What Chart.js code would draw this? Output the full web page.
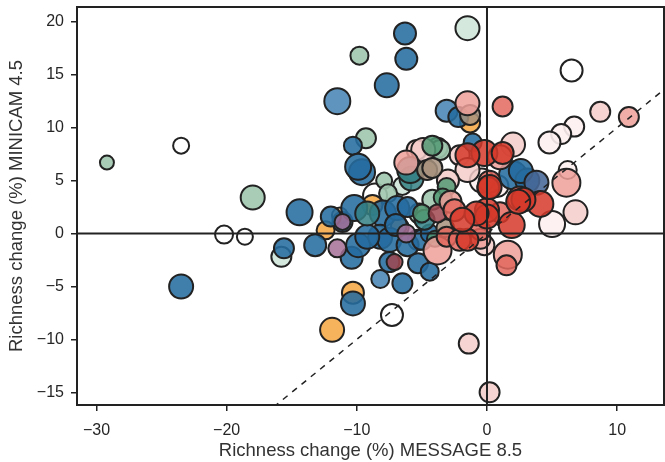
<!DOCTYPE html>
<html>
<head>
<meta charset="utf-8">
<script src="https://cdn.jsdelivr.net/npm/chart.js@4"></script>
<style>
  html, body { margin: 0; padding: 0; background: #fff; }
</style>
</head>
<body>
<canvas id="grafica" width="665" height="462"></canvas>
<script>
// each point: [MESSAGE 8.5 change, MINICAM 4.5 change, bubble size]
const white = [[-23.5,8.3,8],[-20.2,-0.1,9],[-18.6,-0.3,8],[6.5,15.4,11],[-7.3,-7.7,11],[-8.6,3.6,12],[-5.3,-0.6,10]];
const greenPale = [[-1.5,19.4,12],[-15.8,-2.2,10],[-6.5,4.5,9]];
const greenLight = [[-29.2,6.7,7],[-18.0,3.4,12],[-9.8,16.8,9],[-9.3,9.0,10],[-7.9,5.0,8],[-5.2,1.9,10],[-3.8,8.1,10],[-7.6,3.8,9],[-4.2,3.2,10],[-3.6,7.9,10]];
const veryLight = [[6.7,10.1,10],[5.7,9.4,10],[4.8,8.6,11],[6.2,6.0,9],[5.0,0.9,13],[0.8,4.5,11],[-0.4,5.0,12]];
const pinkLight = [[8.7,11.5,10],[6.8,2.0,12],[-1.4,-10.4,10],[0.2,-15.0,10],[2.0,8.4,12],[-5.4,7.9,10],[-2.1,7.4,10],[-0.2,-1.1,10],[-1.5,6.0,12],[-3.0,5.0,11],[-4.9,7.9,12]];
const orange = [[-1.3,10.5,10],[-11.9,-9.1,12],[-10.3,-5.6,11],[-12.4,0.3,9],[-8.8,2.7,10],[-6.7,0.6,9]];
const orangeLight = [[-11.3,1.7,8]];
const blueLight = [[-11.5,12.5,13],[-8.2,-4.3,9],[-3.1,11.6,11]];
const blueDark = [[-6.3,18.9,11],[-6.2,16.5,11],[-7.7,14.0,12],[-10.3,8.3,9],[-9.6,5.8,13],[-9.9,6.3,13],[-14.4,2.0,13],[-15.6,-1.4,10],[-23.5,-5.0,12],[-13.2,-1.1,11],[-10.4,-2.3,11],[-9.9,-1.1,12],[-11.1,1.1,10],[-10.2,2.4,13],[-8.0,1.9,13],[-6.9,2.4,12],[-8.2,-0.3,12],[-7.5,-0.6,12],[-7.5,-2.7,10],[-6.1,-1.1,11],[-6.5,-4.7,10],[-5.3,-2.8,10],[-4.4,-3.6,9],[-10.3,-6.6,12],[2.0,5.5,14],[3.1,5.0,12],[-1.1,8.6,9],[-2.2,11.0,10],[-5.0,-0.6,10],[-4.4,0.0,9],[-6.1,2.5,10],[-9.2,-0.3,12],[-12.0,1.6,10],[-7.0,0.8,11],[2.6,5.9,12]];
const slate = [[3.8,4.8,12]];
const teal = [[-5.8,5.2,12],[-5.9,6.0,13],[-9.2,1.9,12],[-4.8,1.3,10]];
const greenMid = [[-4.2,8.3,10],[-3.1,4.4,9],[-5.0,1.9,9],[-3.4,3.4,9],[-4.0,-0.5,8]];
const brown = [[-4.6,6.0,10],[-3.2,0.5,9],[-4.2,6.2,10],[-1.3,11.2,10]];
const purple = [[-11.5,-1.4,9],[-11.1,1.1,8],[-6.2,0.0,9]];
const maroon = [[-7.1,-2.7,8],[-3.8,1.9,9]];
const pink = [[10.9,11.0,10],[6.1,4.8,14],[-1.5,12.3,12],[-3.8,-1.6,14],[1.6,-2.0,14],[-6.2,6.7,12],[-2.8,3.0,11],[-0.5,-0.5,10],[1.0,7.2,12]];
const redMid = [[1.2,12.0,10],[0.2,4.9,11],[2.5,3.3,12],[1.5,-3.0,10],[-3.1,-0.3,10],[-2.1,-0.6,11],[-0.5,0.3,10],[-2.5,2.2,11],[1.0,2.0,10]];
const redDark = [[4.1,2.8,13],[-0.2,7.6,13],[-1.5,7.4,12],[1.2,7.6,11],[0,2.2,12],[0,1.6,12],[1.9,0.8,13],[2.8,3.2,12],[-1.5,-0.6,11],[-0.8,1.9,12],[0.1,4.3,11],[-1.9,1.3,12],[0.2,4.4,12],[2.4,3.0,12]];

const xTicks = [-30, -20, -10, 0, 10];
const yTicks = [-15, -10, -5, 0, 5, 10, 15, 20];

// drawn bottom to top
const grupos = [
  [white, 'rgba(255,255,255,0.9)'],
  [greenPale, 'rgba(208,229,217,0.9)'],
  [greenLight, 'rgba(160,198,174,0.9)'],
  [veryLight, 'rgba(253,240,239,0.9)'],
  [pinkLight, 'rgba(245,205,201,0.85)'],
  [orange, 'rgba(246,164,64,0.85)'],
  [orangeLight, 'rgba(251,201,138,0.85)'],
  [blueLight, 'rgba(72,133,180,0.88)'],
  [blueDark, 'rgba(38,108,160,0.88)'],
  [slate, 'rgba(70,104,150,0.88)'],
  [teal, 'rgba(50,128,132,0.85)'],
  [greenMid, 'rgba(84,154,116,0.85)'],
  [brown, 'rgba(168,146,124,0.85)'],
  [purple, 'rgba(164,112,152,0.85)'],
  [maroon, 'rgba(160,70,80,0.85)'],
  [pink, 'rgba(238,160,154,0.85)'],
  [redMid, 'rgba(228,104,94,0.85)'],
  [redDark, 'rgba(214,58,42,0.85)']
];

const toMinus = v => String(v).replace('-', '\u2212');

const marco = {
  id: 'marco',
  afterDatasetsDraw(chart) {
    const {ctx, chartArea: a, scales: {x, y}} = chart;
    ctx.save();
    ctx.beginPath();
    ctx.rect(a.left, a.top, a.right - a.left, a.bottom - a.top);
    ctx.clip();
    ctx.strokeStyle = '#222';
    // diagonal 1:1
    ctx.setLineDash([6, 6]);
    ctx.lineWidth = 1.5;
    ctx.beginPath();
    ctx.moveTo(x.getPixelForValue(-40), y.getPixelForValue(-40));
    ctx.lineTo(x.getPixelForValue(40), y.getPixelForValue(40));
    ctx.stroke();
    ctx.setLineDash([]);
    ctx.lineWidth = 2;
    ctx.beginPath();
    ctx.moveTo(a.left, y.getPixelForValue(0));
    ctx.lineTo(a.right, y.getPixelForValue(0));
    ctx.moveTo(x.getPixelForValue(0), a.top);
    ctx.lineTo(x.getPixelForValue(0), a.bottom);
    ctx.stroke();
    ctx.restore();
    ctx.save();
    ctx.strokeStyle = '#222';
    ctx.lineWidth = 2;
    ctx.strokeRect(a.left, a.top, a.right - a.left, a.bottom - a.top);
    ctx.restore();
  }
};

const fuente = { family: '"Liberation Sans", Arial, sans-serif', size: 16 };
const fuenteTitulo = { family: '"Liberation Sans", Arial, sans-serif', size: 18.5 };

new Chart(document.getElementById('grafica'), {
  type: 'bubble',
  data: {
    datasets: grupos.map(([puntos, color], i) => ({
      data: puntos.map(p => ({ x: p[0], y: p[1], r: p[2] })),
      backgroundColor: color,
      borderColor: '#222',
      borderWidth: 2,
      order: grupos.length - i
    }))
  },
  options: {
    responsive: false,
    animation: false,
    devicePixelRatio: 1,
    layout: { autoPadding: false, padding: { top: 7, right: 1, left: 0, bottom: 0 } },
    plugins: { legend: { display: false }, tooltip: { enabled: false } },
    scales: {
      x: {
        type: 'linear',
        min: -31.5,
        max: 13.6,
        afterFit: s => { s.height = 57; s.paddingLeft = 0; s.paddingRight = 0; },
        afterBuildTicks: s => { s.ticks = xTicks.map(v => ({ value: v })); },
        grid: { drawOnChartArea: false, drawTicks: true, tickLength: 6, color: '#222', lineWidth: 1.5 },
        border: { display: false },
        ticks: { color: '#262626', font: fuente, padding: 10, maxRotation: 0, callback: v => toMinus(v) },
        title: { display: true, text: 'Richness change (%) MESSAGE 8.5', color: '#333', font: fuenteTitulo, padding: { top: 0, bottom: 0 } }
      },
      y: {
        type: 'linear',
        min: -16.2,
        max: 21.4,
        afterFit: s => { s.width = 77; s.paddingTop = 0; s.paddingBottom = 0; },
        afterBuildTicks: s => { s.ticks = yTicks.map(v => ({ value: v })); },
        grid: { drawOnChartArea: false, drawTicks: true, tickLength: 6, color: '#222', lineWidth: 1.5 },
        border: { display: false },
        ticks: { color: '#262626', font: fuente, padding: 7, callback: v => toMinus(v) },
        title: { display: true, text: 'Richness change (%) MINICAM 4.5', color: '#333', font: fuenteTitulo, padding: { top: 6, bottom: 0 } }
      }
    }
  },
  plugins: [marco]
});
</script>
</body>
</html>
